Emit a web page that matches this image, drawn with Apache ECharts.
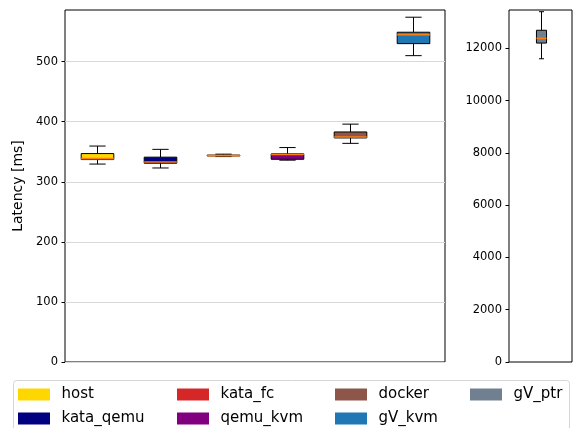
<!DOCTYPE html>
<html>
<head>
<meta charset="utf-8">
<script src="https://cdn.jsdelivr.net/npm/echarts@6/dist/echarts.min.js"></script>
<style>
  html, body { margin: 0; padding: 0; background: #fff; }
  #chart { width: 575px; height: 428px; }
</style>
</head>
<body>
<div id="chart"></div>
<script>
// Startup latency per runtime (ms): whisker low, Q1, median, Q3, whisker high
const categories = ['host', 'kata_qemu', 'kata_fc', 'qemu_kvm', 'docker', 'gV_kvm'];
const whiskerLow  = [329.5, 323,   342,   336,   364,   510];
const quartile1   = [337,   331,   343,   337.5, 373,   530];
const medians     = [338.5, 333,   343.5, 345.5, 374.5, 545];
const quartile3   = [347,   341,   344.5, 346.5, 383,   549];
const whiskerHigh = [359.5, 354,   346,   357,   396,   574];
const boxColors = ['#ffd700', '#000080', '#d62728', '#800080', '#8c564b', '#1f77b4'];

// gVisor ptrace runs on its own scale
const ptrCategories = ['gV_ptr'];
const ptrLow = [11600];
const ptrQ1 = [12200];
const ptrMedian = [12380];
const ptrQ3 = [12690];
const ptrHigh = [13400];
const ptrColors = ['#708090'];

const leftTicks = [0, 100, 200, 300, 400, 500];
const rightTicks = [0, 2000, 4000, 6000, 8000, 10000, 12000];

// legend entries, laid out column by column
const legendNames  = ['host', 'kata_qemu', 'kata_fc', 'qemu_kvm', 'docker', 'gV_kvm', 'gV_ptr'];
const legendColors = ['#ffd700', '#000080', '#d62728', '#800080', '#8c564b', '#1f77b4', '#708090'];

const FONT = 'DejaVu Sans';
const MEDIAN_COLOR = '#ff7f0e';

function boxRows(lo, a, m, b, hi) {
  return lo.map((v, i) => [i, v, a[i], m[i], b[i], hi[i]]);
}

// box + whiskers; caps are half as wide as the box
function boxRenderer(widthFrac, colors) {
  return function (params, api) {
    const x = api.value(0);
    const lo = api.coord([x, api.value(1)]);
    const q1 = api.coord([x, api.value(2)]);
    const md = api.coord([x, api.value(3)]);
    const q3 = api.coord([x, api.value(4)]);
    const hi = api.coord([x, api.value(5)]);
    const band = api.size([1, 0])[0];
    const w = band * widthFrac;
    const halfCap = w / 4;
    const cx = Math.round(lo[0]) + 0.5;
    const line = (x1, y1, x2, y2, stroke, lw) => ({
      type: 'line',
      shape: { x1: x1, y1: y1, x2: x2, y2: y2 },
      style: { stroke: stroke, lineWidth: lw }
    });
    return {
      type: 'group',
      children: [
        line(cx, hi[1], cx, q3[1], '#000', 1),
        line(cx, q1[1], cx, lo[1], '#000', 1),
        line(cx - halfCap, hi[1], cx + halfCap, hi[1], '#000', 1),
        line(cx - halfCap, lo[1], cx + halfCap, lo[1], '#000', 1),
        {
          type: 'rect',
          shape: { x: cx - w / 2, y: q3[1], width: w, height: q1[1] - q3[1] },
          style: { fill: colors[params.dataIndex], stroke: '#000', lineWidth: 1 }
        },
        line(cx - w / 2, md[1], cx + w / 2, md[1], MEDIAN_COLOR, 1.6)
      ]
    };
  };
}

const axisLabelStyle = {
  color: '#000', fontFamily: FONT, fontSize: 11.5, margin: 7,
  formatter: v => String(v)
};

// one legend block per entry: 4 columns, 2 rows
const colLefts = [18, 177, 335, 470];
const rowTops = [387, 411];
const legendSeries = legendNames.map((name, i) => ({
  type: 'scatter', name: name, data: [], xAxisIndex: 0, yAxisIndex: 0,
  itemStyle: { color: legendColors[i], opacity: 1 }
}));
const legends = legendNames.map((name, i) => ({
  left: colLefts[Math.floor(i / 2)],
  top: rowTops[i % 2],
  padding: 0,
  itemWidth: 32,
  itemHeight: 12,
  icon: 'rect',
  selectedMode: false,
  data: [name],
  itemStyle: { opacity: 1 },
  textStyle: { color: '#000', fontFamily: FONT, fontSize: 15, padding: [0, 0, 0, 6.5] }
}));

const chart = echarts.init(document.getElementById('chart'), null, { renderer: 'canvas' });
chart.setOption({
  animation: false,
  backgroundColor: '#fff',
  grid: [
    { left: 65, top: 10, width: 380, height: 352, show: true, borderColor: '#000', borderWidth: 1, backgroundColor: 'transparent' },
    { left: 509, top: 10, width: 63, height: 352, show: true, borderColor: '#000', borderWidth: 1, backgroundColor: 'transparent' }
  ],
  xAxis: [
    { type: 'category', gridIndex: 0, data: categories, axisLine: { show: false }, axisTick: { show: false }, axisLabel: { show: false }, splitLine: { show: false } },
    { type: 'category', gridIndex: 1, data: ptrCategories, axisLine: { show: false }, axisTick: { show: false }, axisLabel: { show: false }, splitLine: { show: false } }
  ],
  yAxis: [
    {
      type: 'value', gridIndex: 0, min: 0, max: 586,
      name: 'Latency [ms]', nameLocation: 'middle', nameGap: 40,
      nameTextStyle: { color: '#000', fontFamily: FONT, fontSize: 14 },
      axisLine: { show: false },
      axisTick: { show: true, length: 3.5, lineStyle: { color: '#000' }, customValues: leftTicks },
      axisLabel: Object.assign({ customValues: leftTicks }, axisLabelStyle),
      splitLine: { show: true, lineStyle: { color: '#d9d9d9', width: 1 } }
    },
    {
      type: 'value', gridIndex: 1, min: 0, max: 13465,
      axisLine: { show: false },
      axisTick: { show: true, length: 3.5, lineStyle: { color: '#000' }, customValues: rightTicks },
      axisLabel: Object.assign({ customValues: rightTicks }, axisLabelStyle),
      splitLine: { show: false }
    }
  ],
  legend: legends,
  graphic: [{
    type: 'rect',
    z: -1,
    shape: { x: 13.5, y: 380.5, width: 556, height: 70, r: 3 },
    style: { fill: '#fff', stroke: '#d6d6d6', lineWidth: 1 }
  }],
  series: [
    {
      type: 'custom', name: 'runtimes', xAxisIndex: 0, yAxisIndex: 0,
      encode: { x: 0, y: [1, 2, 3, 4, 5] },
      renderItem: boxRenderer(0.515, boxColors),
      data: boxRows(whiskerLow, quartile1, medians, quartile3, whiskerHigh),
      z: 3
    },
    {
      type: 'custom', name: 'ptrace', xAxisIndex: 1, yAxisIndex: 1,
      encode: { x: 0, y: [1, 2, 3, 4, 5] },
      renderItem: boxRenderer(0.16, ptrColors),
      data: boxRows(ptrLow, ptrQ1, ptrMedian, ptrQ3, ptrHigh),
      z: 3
    }
  ].concat(legendSeries)
});
</script>
</body>
</html>
